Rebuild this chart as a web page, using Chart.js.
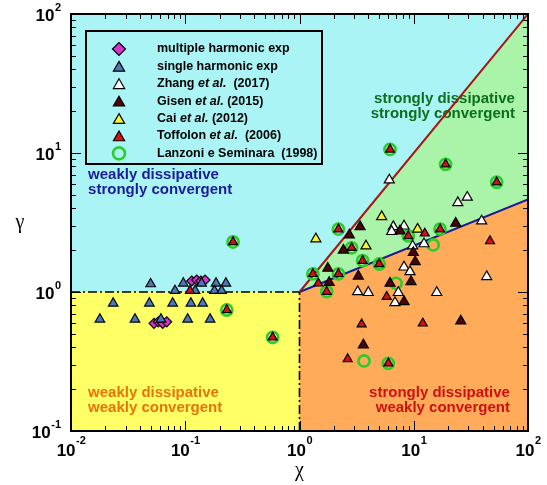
<!DOCTYPE html>
<html>
<head>
<meta charset="utf-8">
<script src="https://cdn.jsdelivr.net/npm/chart.js@4.4.0/dist/chart.umd.min.js"></script>
<style>body{margin:0;background:#fff}</style>
</head>
<body>
<canvas id="chart" width="547" height="485"></canvas>
<script>
// axis ranges and decade tick labels (exponents of 10)
var xMin = 0.01, xMax = 100, yMin = 0.1, yMax = 100;
var xExps = [-2, -1, 0, 1, 2];
var yExps = [-1, 0, 1, 2];

// multiple harmonic exp
var multiX = [0.114, 0.126, 0.137, 0.149, 0.0533, 0.0581, 0.0635, 0.0688];
var multiY = [1.20, 1.22, 1.20, 1.22, 0.595, 0.61, 0.595, 0.61];
// single harmonic exp
var singleX = [0.0498, 0.0962, 0.0813, 0.139, 0.186, 0.227, 0.180, 0.208, 0.122,
               0.0234, 0.0485, 0.0776, 0.112, 0.142, 0.0179, 0.0363, 0.0613, 0.105, 0.165];
var singleY = [1.142, 1.155, 1.022, 1.155, 1.155, 1.155, 1.022, 1.022, 1.022,
               0.829, 0.829, 0.829, 0.829, 0.829, 0.636, 0.636, 0.636, 0.636, 0.636];
// Zhang et al. (2017)
var zhangX = [6.11, 24.3, 29.4, 39.3, 6.62, 8.22, 6.41, 9.79, 12.3, 8.22, 9.27, 43.5, 3.23, 4.0, 7.33, 6.85, 15.9];
var zhangY = [6.39, 4.39, 4.80, 3.24, 2.95, 2.98, 2.72, 2.14, 2.22, 1.51, 1.40, 1.29, 1.005, 0.99, 0.99, 0.838, 0.99];
// Gisen et al. (2015)
var gisenX = [23.3, 3.39, 2.73, 2.42, 7.58, 9.91, 10.3, 1.77, 3.27, 1.82, 6.2, 9.46, 8.22, 25.8, 3.62];
var gisenY = [3.12, 2.95, 2.57, 2.00, 2.75, 1.92, 1.65, 1.48, 1.30, 1.17, 1.155, 1.186, 0.852, 0.618, 0.416];
// Cai et al. (2012)
var caiX = [5.24, 1.39, 3.82, 10.8];
var caiY = [3.48, 2.41, 2.14, 2.83];
// Toffolon et al. (2006)
var toffX = [0.110, 1.46, 5.80, 3.50, 12.0, 2.64, 12.5, 46.5,
             0.231, 0.582, 0.262, 6.2, 19.0, 53.2, 2.19, 2.86, 8.96, 17.0, 3.57, 4.99, 1.31, 2.19, 1.73, 5.99];
var toffY = [1.022, 1.155, 0.925, 0.586, 0.595, 0.330, 2.64, 2.33,
             0.742, 0.472, 2.29, 10.6, 8.29, 6.16, 2.83, 2.08, 2.53, 2.83, 1.68, 1.59, 1.35, 1.35, 1.005, 0.307];
// Lanzoni e Seminara (1998)
var lanzX = [0.231, 0.582, 0.262, 6.2, 19.0, 53.2, 2.19, 2.86, 8.96, 17.0, 3.57, 4.99, 1.31, 2.19, 1.73, 5.99, 14.8, 7.0, 3.67];
var lanzY = [0.742, 0.472, 2.29, 10.6, 8.29, 6.16, 2.83, 2.08, 2.53, 2.83, 1.68, 1.59, 1.35, 1.35, 1.005, 0.307, 2.18, 1.155, 0.319];

// regime boundaries
var redLineX = [1, 100], redLineY = [1, 100];
var blueLineX = [1, 100], blueLineY = [1, 4.64];
var dashHX = [0.01, 1], dashHY = [1, 1];
var dashVX = [1, 1], dashVY = [0.1, 1];

function pts(xs, ys) {
    return xs.map(function (v, i) { return {x: v, y: ys[i]}; });
}

var FONT = '"Liberation Sans", Arial, Helvetica, sans-serif';

var series = [
    {label: "multiple harmonic exp", x: multiX, y: multiY, style: "rectRot", fill: "#d633cc", r: 5},
    {label: ["single harmonic exp"], x: singleX, y: singleY, style: "triangle", fill: "#4a78b8", r: 5.5},
    {label: ["Zhang ", "et al.", "  (2017)"], x: zhangX, y: zhangY, style: "triangle", fill: "#ffffff", r: 5.8},
    {label: ["Gisen ", "et al.", " (2015)"], x: gisenX, y: gisenY, style: "triangle", fill: "#4a0606", r: 5.8},
    {label: ["Cai ", "et al.", " (2012)"], x: caiX, y: caiY, style: "triangle", fill: "#f4f430", r: 5.8},
    {label: ["Toffolon ", "et al.", "  (2006)"], x: toffX, y: toffY, style: "triangle", fill: "#d41010", r: 5.2},
    {label: ["Lanzoni e Seminara  (1998)"], x: lanzX, y: lanzY, style: "circle", fill: "rgba(0,0,0,0)", r: 5.6}
];

var datasets = series.map(function (s, i) {
    var isCircle = s.style === "circle";
    return {
        type: "scatter",
        label: Array.isArray(s.label) ? s.label.join("") : s.label,
        data: pts(s.x, s.y),
        pointStyle: s.style,
        pointRadius: s.r,
        backgroundColor: s.fill,
        borderColor: isCircle ? "#2ccc2c" : "#000000",
        borderWidth: isCircle ? 2.6 : 1.2,
        order: isCircle ? 20 : 10 - i
    };
});

function lineSet(xs, ys, color, width, dash) {
    return {
        type: "line",
        data: pts(xs, ys),
        borderColor: color,
        borderWidth: width,
        borderDash: dash || [],
        pointRadius: 0,
        fill: false,
        order: 30
    };
}
datasets.push(lineSet(redLineX, redLineY, "#a81414", 2));
datasets.push(lineSet(blueLineX, blueLineY, "#1a1a96", 2));
datasets.push(lineSet(dashHX, dashHY, "#000000", 1.6, [9, 3, 2, 3]));
datasets.push(lineSet(dashVX, dashVY, "#000000", 1.6, [9, 3, 2, 3]));

// region polygons built from the boundaries
var regions = [
    {color: "#ffff66", poly: [[xMin, yMin], [dashVX[0], yMin], [dashVX[1], dashVY[1]], [xMin, dashHY[0]]]},
    {color: "#aaf4aa", poly: [[redLineX[0], redLineY[0]], [redLineX[1], redLineY[1]], [blueLineX[1], blueLineY[1]]]},
    {color: "#ffab5a", poly: [[blueLineX[0], yMin], [blueLineX[0], blueLineY[0]], [blueLineX[1], blueLineY[1]], [xMax, yMin]]}
];

// regime labels: anchor (data coords), alignment, colour
var regimeLabels = [
    {lines: ["weakly dissipative", "strongly convergent"], x: 0.0141, y: 6.95, align: "left", color: "#1c1c96"},
    {lines: ["strongly dissipative", "strongly convergent"], x: 76.9, y: 24.5, align: "right", color: "#0d6e1e"},
    {lines: ["weakly dissipative", "weakly convergent"], x: 0.0141, y: 0.1876, align: "left", color: "#e8740c"},
    {lines: ["strongly dissipative", "weakly convergent"], x: 69.5, y: 0.1876, align: "right", color: "#cc1111"}
];

var backdrop = {
    id: "backdrop",
    beforeDatasetsDraw: function (chart) {
        var ctx = chart.ctx, a = chart.chartArea;
        var xs = chart.scales.x, ys = chart.scales.y;
        ctx.save();
        ctx.fillStyle = "#aaf4f6";
        ctx.fillRect(a.left, a.top, a.right - a.left, a.bottom - a.top);
        regions.forEach(function (r) {
            ctx.beginPath();
            r.poly.forEach(function (p, i) {
                var px = xs.getPixelForValue(p[0]), py = ys.getPixelForValue(p[1]);
                if (i === 0) ctx.moveTo(px, py); else ctx.lineTo(px, py);
            });
            ctx.closePath();
            ctx.fillStyle = r.color;
            ctx.fill();
        });
        ctx.font = "bold 15px " + FONT;
        ctx.textBaseline = "middle";
        regimeLabels.forEach(function (l) {
            ctx.fillStyle = l.color;
            ctx.textAlign = l.align;
            var px = xs.getPixelForValue(l.x), py = ys.getPixelForValue(l.y);
            l.lines.forEach(function (t, i) { ctx.fillText(t, px, py + i * 15); });
        });
        ctx.restore();
    }
};

var frame = {
    id: "frame",
    afterDatasetsDraw: function (chart) {
        var ctx = chart.ctx, a = chart.chartArea;
        var xs = chart.scales.x, ys = chart.scales.y;
        ctx.save();
        ctx.strokeStyle = "#000";
        ctx.lineWidth = 1;
        // inward ticks on all four sides
        var e, m, v, p, len;
        ctx.beginPath();
        for (e = -2; e < 2; e++) {
            for (m = 1; m <= 10; m++) {
                v = m * Math.pow(10, e);
                p = Math.round(xs.getPixelForValue(v)) + 0.5;
                len = (m === 1 || m === 10) ? 10 : 5;
                ctx.moveTo(p, a.bottom); ctx.lineTo(p, a.bottom - len);
                ctx.moveTo(p, a.top); ctx.lineTo(p, a.top + len);
            }
        }
        for (e = -1; e < 2; e++) {
            for (m = 1; m <= 10; m++) {
                v = m * Math.pow(10, e);
                p = Math.round(ys.getPixelForValue(v)) + 0.5;
                len = (m === 1 || m === 10) ? 10 : 5;
                ctx.moveTo(a.left, p); ctx.lineTo(a.left + len, p);
                ctx.moveTo(a.right, p); ctx.lineTo(a.right - len, p);
            }
        }
        ctx.stroke();
        ctx.lineWidth = 2;
        ctx.strokeRect(a.left, a.top, a.right - a.left, a.bottom - a.top);

        // tick labels 10^n
        ctx.fillStyle = "#000";
        ctx.textBaseline = "alphabetic";
        ctx.textAlign = "left";
        var big = "bold 17px " + FONT, small = "bold 11px " + FONT;
        xExps.forEach(function (n) {
            var px = xs.getPixelForValue(Math.pow(10, n));
            ctx.font = big; var w1 = ctx.measureText("10").width;
            ctx.font = small; var w2 = ctx.measureText(String(n)).width;
            var x0 = px - (w1 + w2) / 2;
            ctx.font = big; ctx.fillText("10", x0, a.bottom + 25);
            ctx.font = small; ctx.fillText(String(n), x0 + w1 + 0.5, a.bottom + 13);
        });
        yExps.forEach(function (n) {
            var py = ys.getPixelForValue(Math.pow(10, n));
            ctx.font = small; var w2 = ctx.measureText(String(n)).width;
            var xe = a.left - 10 - w2;
            ctx.fillText(String(n), xe, py - 3);
            ctx.font = big; ctx.textAlign = "right";
            ctx.fillText("10", xe - 0.5, py + 6.5);
            ctx.textAlign = "left";
        });

        // axis titles
        ctx.font = "20px \"Liberation Serif\", \"DejaVu Serif\", serif";
        ctx.textAlign = "center";
        ctx.textBaseline = "middle";
        ctx.fillText("\u03c7", (a.left + a.right) / 2, a.bottom + 40);
        ctx.fillText("\u03b3", 20, (a.top + a.bottom) / 2);

        // legend box
        var bx = a.left + 15, by = a.top + 17, bw = 236, bh = 133;
        ctx.lineWidth = 2;
        ctx.strokeRect(bx, by, bw, bh);
        series.forEach(function (s, i) {
            var ds = chart.data.datasets[i];
            var cy = by + 18 + i * 17.4;
            ctx.save();
            ctx.fillStyle = ds.backgroundColor;
            ctx.strokeStyle = ds.borderColor;
            ctx.lineWidth = ds.borderWidth;
            Chart.helpers.drawPoint(ctx, {pointStyle: ds.pointStyle, radius: s.style === "circle" ? 6 : 6.5, rotation: 0, borderWidth: ds.borderWidth}, bx + 33, cy + (s.style === "triangle" ? 1.5 : 0));
            ctx.restore();
            var parts = Array.isArray(s.label) ? s.label : [s.label];
            var tx = bx + 71;
            ctx.fillStyle = "#000";
            ctx.textAlign = "left";
            ctx.textBaseline = "middle";
            parts.forEach(function (t, k) {
                ctx.font = (k === 1 ? "italic bold " : "bold ") + "12.5px " + FONT;
                ctx.fillText(t, tx, cy);
                tx += ctx.measureText(t).width;
            });
        });
        ctx.restore();
    }
};

new Chart(document.getElementById("chart"), {
    type: "scatter",
    data: {datasets: datasets},
    options: {
        responsive: false,
        animation: false,
        layout: {padding: {left: 71, right: 19, top: 14, bottom: 54}},
        scales: {
            x: {type: "logarithmic", min: xMin, max: xMax, display: false},
            y: {type: "logarithmic", min: yMin, max: yMax, display: false}
        },
        plugins: {legend: {display: false}, tooltip: {enabled: false}}
    },
    plugins: [backdrop, frame]
});
</script>
</body>
</html>
